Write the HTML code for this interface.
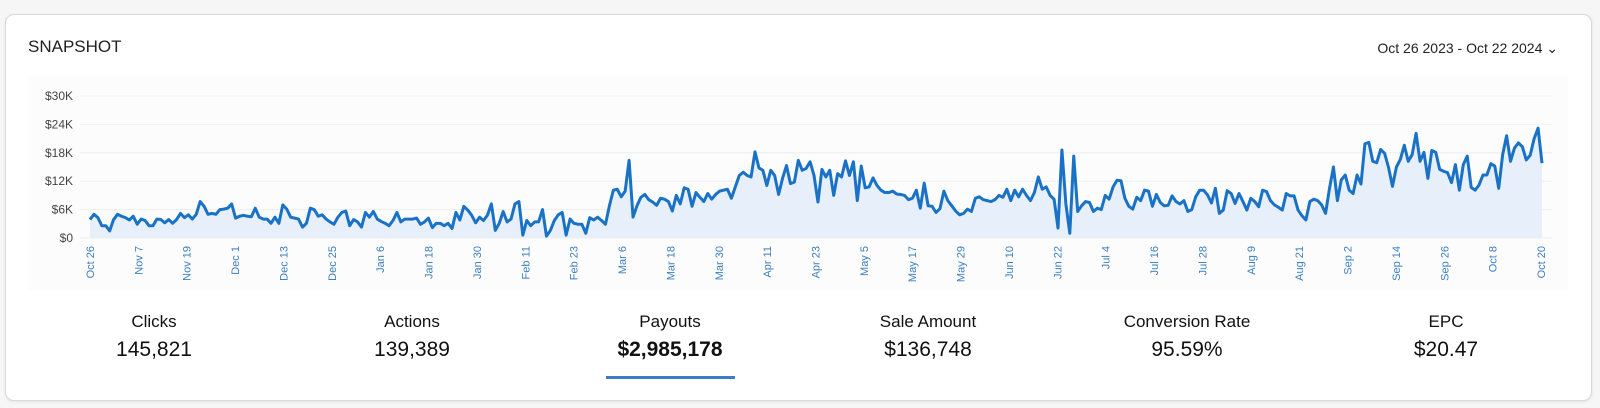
<!DOCTYPE html>
<html><head><meta charset="utf-8">
<style>
html,body{margin:0;padding:0;background:#f6f6f6;width:1600px;height:408px;overflow:hidden;font-family:"Liberation Sans",sans-serif;}
#card{position:absolute;left:5px;top:14px;width:1585px;height:385px;background:#fff;border:1px solid #d9d9d9;border-radius:9px;box-shadow:0 1px 3px rgba(0,0,0,0.08);}
#title{position:absolute;left:22px;top:22px;font-size:17px;color:#222;}
#range{position:absolute;right:33px;top:25px;font-size:14px;color:#222;}
.stat{position:absolute;top:297px;width:250px;text-align:center;color:#111;}
.stat .l{font-size:17px;}
.stat .v{font-size:21px;margin-top:6px;}
#uline{position:absolute;left:600px;top:361px;width:129px;height:3px;background:#3b7dc8;}
svg{position:absolute;left:0;top:0;}
</style></head><body>
<div id="card">
<div id="title">SNAPSHOT</div>
<div id="range">Oct 26 2023 - Oct 22 2024 &#8964;</div>
<div class="stat" style="left:23px"><div class="l">Clicks</div><div class="v">145,821</div></div>
<div class="stat" style="left:281px"><div class="l">Actions</div><div class="v">139,389</div></div>
<div class="stat" style="left:539px"><div class="l">Payouts</div><div class="v" style="font-weight:bold">$2,985,178</div></div>
<div class="stat" style="left:797px"><div class="l">Sale Amount</div><div class="v">$136,748</div></div>
<div class="stat" style="left:1056px"><div class="l">Conversion Rate</div><div class="v">95.59%</div></div>
<div class="stat" style="left:1315px"><div class="l">EPC</div><div class="v">$20.47</div></div>
<div id="uline"></div>
</div>
<svg id="chart" width="1600" height="408"></svg>
<script>
const values=[3.9,5.0,4.3,2.6,2.6,1.5,3.9,5.0,4.6,4.3,3.8,4.6,2.9,4.0,3.7,2.6,2.6,4.0,3.9,3.2,3.9,3.1,3.9,5.2,4.3,4.9,4.0,5.0,7.7,6.7,5.0,5.2,5.0,6.0,6.1,6.3,7.2,4.2,4.6,4.8,4.6,4.5,6.3,4.4,4.0,4.0,3.1,4.4,3.1,7.0,6.1,4.4,4.2,4.0,2.3,3.1,6.3,6.0,4.6,4.9,4.0,3.4,2.9,4.4,5.4,5.7,2.6,3.9,3.4,2.3,5.4,4.4,5.6,4.0,3.5,3.1,2.6,3.7,5.4,3.4,4.0,4.0,4.0,4.2,2.9,3.4,4.2,2.2,3.1,3.1,
2.6,3.1,2.0,5.4,3.8,6.7,5.9,4.8,3.2,4.4,3.7,4.8,7.2,1.6,3.1,5.6,3.4,4.0,7.2,7.7,0.6,3.7,2.6,3.4,3.4,6.0,0.4,1.6,3.7,4.9,5.4,0.6,4.0,3.1,2.9,2.9,1.0,4.3,3.8,4.4,3.7,2.9,6.8,10.1,10.3,8.7,9.9,16.4,4.4,6.8,8.6,9.2,8.1,7.6,6.9,8.4,8.2,7.7,5.7,9.0,7.2,10.6,10.3,6.7,9.6,8.6,7.7,9.4,8.2,9.2,9.9,10.1,10.3,8.4,10.8,13.2,13.9,13.2,12.9,18.2,14.8,14.3,11.1,14.3,13.2,9.2,12.6,15.3,11.5,11.8,16.4,14.3,
14.7,16.1,13.2,7.6,14.5,12.9,14.3,9.0,13.6,12.9,16.3,13.2,16.1,7.9,15.2,10.6,10.8,12.7,11.1,10.1,9.6,9.6,9.9,9.3,9.2,9.0,8.1,8.4,10.1,6.3,11.6,6.8,6.7,5.4,6.2,9.9,7.9,6.8,5.7,4.9,5.2,6.1,5.6,8.4,8.7,8.1,7.9,7.7,8.1,9.0,8.6,10.3,7.9,10.1,8.7,10.3,9.0,7.9,9.6,12.9,10.3,10.8,9.0,8.2,2.1,18.6,7.2,1.0,17.3,5.6,6.8,7.7,7.5,5.6,6.3,6.0,9.0,8.2,10.8,12.2,12.1,8.4,6.7,6.1,8.6,7.9,10.1,9.9,6.7,9.2,7.5,6.8,
6.9,8.9,7.7,7.2,7.9,5.6,6.0,8.7,10.1,10.1,9.1,7.4,10.5,5.2,5.9,10.0,9.4,7.3,9.4,7.7,5.9,8.4,7.7,6.6,10.1,9.8,7.9,7.0,6.5,5.9,9.4,8.9,8.9,5.9,4.7,3.8,7.7,8.2,7.9,7.0,5.2,10.5,15.0,7.9,12.3,13.3,10.1,9.4,13.3,11.4,19.9,20.2,16.2,15.9,18.7,17.9,14.9,10.9,15.0,16.6,19.6,16.2,17.6,22.1,16.2,18.1,12.6,18.5,18.1,14.5,14.1,13.8,11.7,15.5,10.1,15.5,17.3,10.7,10.1,11.2,13.3,13.3,15.7,15.2,10.5,17.6,21.6,16.2,19.0,
20.1,19.3,16.5,17.5,21.0,23.2,15.8];
const yTicks=[0,6,12,18,24,30];
const yTickLabels=["$0","$6K","$12K","$18K","$24K","$30K"];
const xLabels=["Oct 26","Nov 7","Nov 19","Dec 1","Dec 13","Dec 25","Jan 6","Jan 18","Jan 30","Feb 11","Feb 23","Mar 6","Mar 18","Mar 30","Apr 11","Apr 23","May 5","May 17","May 29","Jun 10","Jun 22","Jul 4","Jul 16","Jul 28","Aug 9","Aug 21","Sep 2","Sep 14","Sep 26","Oct 8","Oct 20"];
const X0=90,X1=1542,Y0=238,Y1=96;
const svg=document.getElementById('chart');
const NS='http://www.w3.org/2000/svg';
function y(v){return Y0-(v/30)*(Y0-Y1);}
function xi(i){return X0+i*(X1-X0)/(values.length-1);}
function xl(k){return X0+k*(X1-1-X0)/(xLabels.length-1);}
function mk(t,a){const e=document.createElementNS(NS,t);for(const k in a)e.setAttribute(k,a[k]);svg.appendChild(e);return e;}
const bg=mk('rect',{x:28,y:76,width:1540,height:214,fill:'#fcfcfd'});


yTicks.forEach((t,i)=>{
  const g=mk('line',{x1:80,x2:1552,y1:y(t),y2:y(t),stroke:'#eeeeee','stroke-width':1});
  
  
  const tx=mk('text',{x:73,y:y(t)+4,'text-anchor':'end','font-size':12,fill:'#444','font-family':'Liberation Sans, sans-serif'});
  tx.textContent=yTickLabels[i];
  
  
});
let d='M'+xi(0)+','+y(values[0]);
for(let i=1;i<values.length;i++)d+='L'+xi(i).toFixed(2)+','+y(values[i]).toFixed(2);
const area=mk('path',{d:d+'L'+X1+','+Y0+'L'+X0+','+Y0+'Z',fill:'#e7f0fa'});


const line=mk('path',{d:d,fill:'none',stroke:'#1a72c6','stroke-width':3,'stroke-linejoin':'round'});


xLabels.forEach((l,k)=>{
  const x=xl(k);
  const t=mk('text',{x:0,y:0,transform:'translate('+(x+4)+',246) rotate(-90)','text-anchor':'end','font-size':11,fill:'#3d7fbf','font-family':'Liberation Sans, sans-serif'});
  t.textContent=l;
  
  
});
</script>
</body></html>
